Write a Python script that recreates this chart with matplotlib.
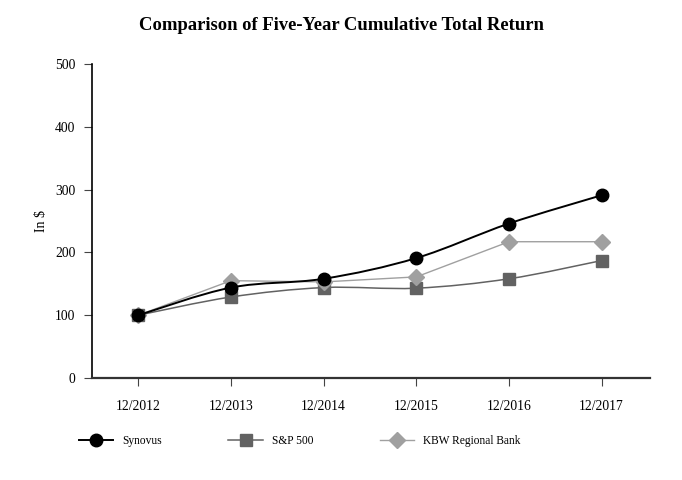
import matplotlib.pyplot as plt
from matplotlib.path import Path
from matplotlib.patches import PathPatch
from matplotlib.lines import Line2D

plt.rcParams['font.family'] = ['Liberation Serif', 'DejaVu Serif']

years = ['12/2012', '12/2013', '12/2014', '12/2015', '12/2016', '12/2017']
synovus = [100, 144, 158, 191, 246, 291]
sp500 = [100, 129, 144, 143, 158, 187]
kbw = [100, 155, 153, 161, 217, 217]


def smooth_path(xs, ys):
    # cubic bezier through the points (catmull-rom style control points)
    pts = list(zip(xs, ys))
    verts = [pts[0]]
    codes = [Path.MOVETO]
    n = len(pts)
    for i in range(n - 1):
        p0 = pts[i - 1] if i > 0 else pts[i]
        p1 = pts[i]
        p2 = pts[i + 1]
        p3 = pts[i + 2] if i + 2 < n else pts[i + 1]
        c1 = (p1[0] + (p2[0] - p0[0]) / 6, p1[1] + (p2[1] - p0[1]) / 6)
        c2 = (p2[0] - (p3[0] - p1[0]) / 6, p2[1] - (p3[1] - p1[1]) / 6)
        verts += [c1, c2, p2]
        codes += [Path.CURVE4] * 3
    return Path(verts, codes)


fig = plt.figure(figsize=(6.82, 4.8), dpi=100)
ax = fig.add_axes([0.1349, 0.2125, 0.818, 0.6542])

x = list(range(len(years)))

sp_col = '#626262'
kbw_col = '#a0a0a0'

ax.add_patch(PathPatch(smooth_path(x, sp500), fill=False, edgecolor=sp_col, lw=1.1, zorder=2))
ax.plot(x, sp500, ls='none', marker='s', ms=8, color=sp_col, zorder=3)

ax.plot(x, kbw, color=kbw_col, lw=1.0, marker='D', ms=8.5, zorder=4)

ax.add_patch(PathPatch(smooth_path(x, synovus), fill=False, edgecolor='black', lw=1.4, zorder=5))
ax.plot(x, synovus, ls='none', marker='o', ms=9, color='black', zorder=6)

ax.set_xlim(-0.5, 5.52)
ax.set_ylim(0, 500)
ax.set_yticks([0, 100, 200, 300, 400, 500])
ax.set_xticks(x)
ax.set_xticklabels(years)

for s in ['top', 'right']:
    ax.spines[s].set_visible(False)
ax.spines['left'].set_linewidth(1.2)
ax.spines['bottom'].set_linewidth(1.6)
ax.spines['bottom'].set_color('#333333')
ax.tick_params(axis='y', length=6, width=0.8, labelsize=9.8, pad=6, color='#444444')
ax.tick_params(axis='x', length=6, width=0.8, labelsize=9.8, pad=10, color='#444444')
ax.set_ylabel('In $', fontsize=10, labelpad=5)

fig.suptitle('Comparison of Five-Year Cumulative Total Return', fontsize=13.4,
             fontweight='bold', y=0.965)

handles = [
    Line2D([], [], color='black', lw=1.4, marker='o', ms=9),
    Line2D([], [], color=sp_col, lw=1.1, marker='s', ms=8),
    Line2D([], [], color=kbw_col, lw=1.0, marker='D', ms=8.5),
]
fig.legend(handles, ['Synovus', 'S&P 500', 'KBW Regional Bank'], ncol=3,
           loc='center left', bbox_to_anchor=(0.1005, 0.081), frameon=False,
           fontsize=8.3, handlelength=3.0, columnspacing=5.75, handletextpad=0.78)

fig.savefig('out.png', dpi=100)
